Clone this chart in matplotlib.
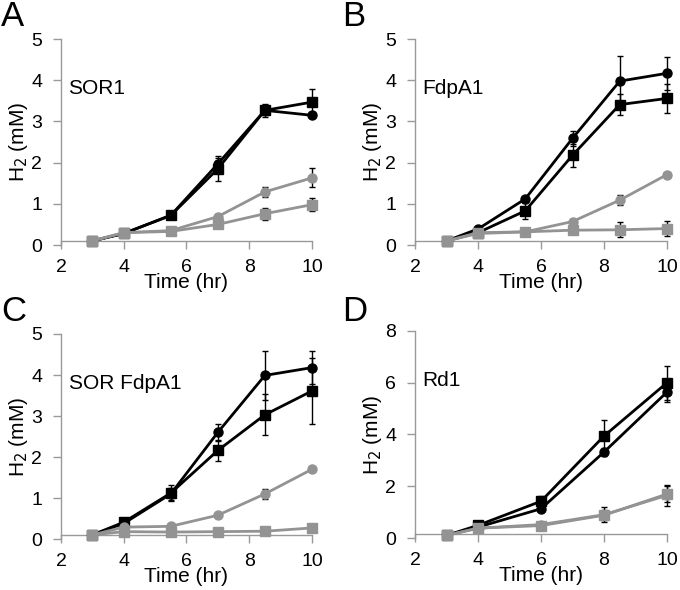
import matplotlib
matplotlib.use("Agg")
import matplotlib.pyplot as plt

plt.rcParams['font.family'] = ['Liberation Sans', 'DejaVu Sans']

# time points (hr)
t_abc = [3, 4, 5.5, 7, 8.5, 10]
t_d = [3, 4, 6, 8, 10]

# A: SOR1
a_blk_circ = [0.1, 0.28, 0.72, 1.97, 3.27, 3.15]
a_blk_circ_err = [0, 0.03, 0.06, 0.15, 0.12, 0.05]
a_blk_sq = [0.1, 0.28, 0.72, 1.85, 3.27, 3.47]
a_blk_sq_err = [0, 0.03, 0.08, 0.3, 0.15, 0.33]
a_gry_circ = [0.1, 0.3, 0.35, 0.69, 1.29, 1.63]
a_gry_circ_err = [0, 0.03, 0.04, 0.05, 0.12, 0.23]
a_gry_sq = [0.1, 0.3, 0.33, 0.5, 0.76, 0.98]
a_gry_sq_err = [0, 0.03, 0.04, 0.05, 0.15, 0.15]

# B: FdpA1
b_blk_circ = [0.1, 0.39, 1.12, 2.59, 3.98, 4.17]
b_blk_circ_err = [0, 0.03, 0.08, 0.18, 0.6, 0.4]
b_blk_sq = [0.1, 0.3, 0.83, 2.18, 3.41, 3.56]
b_blk_sq_err = [0, 0.03, 0.2, 0.28, 0.25, 0.35]
b_gry_circ = [0.1, 0.3, 0.32, 0.57, 1.09, 1.71]
b_gry_circ_err = [0, 0.02, 0.03, 0.05, 0.12, 0.05]
b_gry_sq = [0.1, 0.28, 0.32, 0.36, 0.37, 0.4]
b_gry_sq_err = [0, 0.02, 0.03, 0.1, 0.18, 0.18]

# C: SOR FdpA1
c_blk_circ = [0.1, 0.38, 1.1, 2.6, 3.99, 4.18]
c_blk_circ_err = [0, 0.03, 0.15, 0.2, 0.6, 0.4]
c_blk_sq = [0.1, 0.41, 1.12, 2.16, 3.03, 3.61]
c_blk_sq_err = [0, 0.03, 0.2, 0.25, 0.5, 0.8]
c_gry_circ = [0.1, 0.29, 0.31, 0.58, 1.1, 1.7]
c_gry_circ_err = [0, 0.02, 0.03, 0.04, 0.13, 0.05]
c_gry_sq = [0.1, 0.18, 0.17, 0.18, 0.19, 0.27]
c_gry_sq_err = [0, 0.02, 0.02, 0.02, 0.03, 0.03]

# D: Rd1
d_blk_circ = [0.1, 0.42, 1.13, 3.32, 5.64]
d_blk_circ_err = [0, 0.05, 0.1, 0.15, 0.4]
d_blk_sq = [0.1, 0.49, 1.42, 3.94, 6.0]
d_blk_sq_err = [0, 0.05, 0.2, 0.6, 0.65]
d_gry_circ = [0.1, 0.38, 0.52, 0.9, 1.65]
d_gry_circ_err = [0, 0.05, 0.08, 0.3, 0.4]
d_gry_sq = [0.1, 0.38, 0.48, 0.88, 1.7]
d_gry_sq_err = [0, 0.05, 0.06, 0.2, 0.3]

GRAY = "#939393"
panels = [
    ("A", "SOR1", t_abc, 5, [0, 1, 2, 3, 4, 5],
     [(a_blk_circ, a_blk_circ_err, "k", "o"), (a_blk_sq, a_blk_sq_err, "k", "s"),
      (a_gry_circ, a_gry_circ_err, GRAY, "o"), (a_gry_sq, a_gry_sq_err, GRAY, "s")]),
    ("B", "FdpA1", t_abc, 5, [0, 1, 2, 3, 4, 5],
     [(b_blk_circ, b_blk_circ_err, "k", "o"), (b_blk_sq, b_blk_sq_err, "k", "s"),
      (b_gry_circ, b_gry_circ_err, GRAY, "o"), (b_gry_sq, b_gry_sq_err, GRAY, "s")]),
    ("C", "SOR FdpA1", t_abc, 5, [0, 1, 2, 3, 4, 5],
     [(c_blk_circ, c_blk_circ_err, "k", "o"), (c_blk_sq, c_blk_sq_err, "k", "s"),
      (c_gry_circ, c_gry_circ_err, GRAY, "o"), (c_gry_sq, c_gry_sq_err, GRAY, "s")]),
    ("D", "Rd1", t_d, 8, [0, 2, 4, 6, 8],
     [(d_blk_circ, d_blk_circ_err, "k", "o"), (d_blk_sq, d_blk_sq_err, "k", "s"),
      (d_gry_circ, d_gry_circ_err, GRAY, "o"), (d_gry_sq, d_gry_sq_err, GRAY, "s")]),
]

# axes rectangles in figure fraction
rects = [
    [0.0897, 0.5847, 0.369, 0.349],
    [0.6103, 0.5847, 0.3706, 0.349],
    [0.0897, 0.0864, 0.369, 0.3475],
    [0.6103, 0.0881, 0.3706, 0.351],
]
letter_pos = [(0.002, 1.0), (0.503, 1.0), (0.002, 0.5), (0.503, 0.5)]

fig = plt.figure(figsize=(6.8, 5.9), dpi=100)
spine_col = "#999999"

for (letter, name, t, ymax, yticks, series), rect, lp in zip(panels, rects, letter_pos):
    ax = fig.add_axes(rect)
    for vals, err, col, mk in series:
        ax.errorbar(t, vals, yerr=err, color=col, marker=mk, markersize=6.5,
                    linewidth=2, ecolor="k", elinewidth=1, capsize=2, capthick=1,
                    clip_on=False, zorder=3)
    ax.set_xlim(2, 10)
    ax.set_ylim(0, ymax)
    ax.set_xticks([2, 4, 6, 8, 10])
    ax.set_yticks(yticks)
    ax.spines['top'].set_visible(False)
    ax.spines['right'].set_visible(False)
    ax.spines['bottom'].set_position(('data', 0.1 * ymax / 5))
    for s in ['left', 'bottom']:
        ax.spines[s].set_color(spine_col)
        ax.spines[s].set_linewidth(1)
    ax.tick_params(axis='both', colors=spine_col, labelcolor='k', labelsize=14,
                   length=5.5, width=1)
    ax.tick_params(axis='x', pad=7.5)
    ax.tick_params(axis='y', pad=8)
    ax.set_xlabel("Time (hr)", fontsize=15, labelpad=-2)
    ax.set_ylabel("H$_2$ (mM)", fontsize=15, labelpad=1)
    ax.text(0.03, 0.76, name, transform=ax.transAxes, fontsize=15, va='center')
    fig.text(lp[0], lp[1], letter, fontsize=25, ha='left', va='top')

fig.savefig("out.png", dpi=100)
